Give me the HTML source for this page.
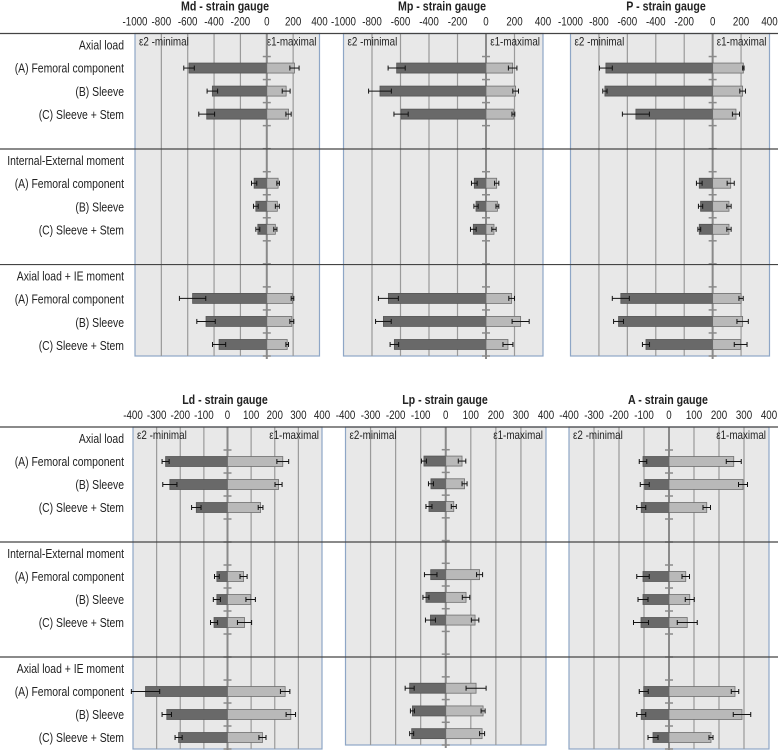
<!DOCTYPE html>
<html><head><meta charset="utf-8">
<style>
body{margin:0;background:#fff;width:778px;height:750px;overflow:hidden}
svg{display:block;font-family:"Liberation Sans",sans-serif}
</style></head>
<body>
<svg id="chart" width="778" height="750" viewBox="0 0 778 750"></svg>
<script>
const rowLabels = ["Axial load","(A) Femoral component","(B) Sleeve","(C) Sleeve + Stem","","Internal-External moment","(A) Femoral component","(B) Sleeve","(C) Sleeve + Stem","","Axial load + IE moment","(A) Femoral component","(B) Sleeve","(C) Sleeve + Stem"];
const barRows = [1,2,3,6,7,8,11,12,13];
const ticksTop = [-1000,-800,-600,-400,-200,0,200,400];
const ticksBottom = [-400,-300,-200,-100,0,100,200,300,400];

const mdE2 = [-590,-413,-456,-96,-83,-68,-563,-461,-362];
const mdE2Err = [40,40,60,20,18,15,100,70,50];
const mdE1 = [210,147,165,86,80,65,195,190,155];
const mdE1Err = [35,30,20,10,15,12,10,15,10];

const mpE2 = [-627,-744,-596,-82,-70,-89,-685,-720,-643];
const mpE2Err = [60,80,50,20,15,20,70,55,30];
const mpE1 = [187,208,192,75,80,56,180,243,154];
const mpE1Err = [30,20,10,15,10,15,20,60,35];

const pE2 = [-751,-758,-540,-94,-85,-94,-646,-662,-469];
const pE2Err = [45,15,95,20,15,10,60,35,25];
const pE1 = [216,211,164,127,115,115,200,211,197];
const pE1Err = [5,20,25,25,15,15,15,40,45];

const ldE2 = [-262,-244,-132,-45,-45,-57,-347,-257,-207];
const ldE2Err = [15,30,20,10,15,15,60,20,15];
const ldE1 = [234,216,140,68,98,72,244,268,148];
const ldE1Err = [25,15,10,15,20,30,20,20,15];

const lpE2 = [-87,-59,-67,-60,-79,-61,-144,-133,-136];
const lpE2Err = [10,10,12,25,12,20,18,8,8];
const lpE1 = [65,75,32,135,81,117,121,149,145];
const lpE1Err = [15,10,10,12,15,15,40,8,10];

const aE2 = [-104,-97,-111,-104,-104,-112,-101,-111,-64];
const aE2Err = [15,18,18,25,20,30,18,18,20];
const aE1 = [259,296,151,67,83,73,264,292,168];
const aE1Err = [30,18,15,15,18,40,15,35,8];

const NS="http://www.w3.org/2000/svg";
const svg=document.getElementById('chart');
function mk(tag,attrs,parent){const e=document.createElementNS(NS,tag);for(const k in attrs)e.setAttribute(k,attrs[k]);(parent||svg).appendChild(e);return e;}
function squeeze(t,f){const w=t.getComputedTextLength();if(w>0){t.setAttribute('textLength',(w*f).toFixed(1));t.setAttribute('lengthAdjust','spacingAndGlyphs');}}

function rowLabelsBlock(top,bottom){
  const step=(bottom-top)/14;
  rowLabels.forEach((t,i)=>{
    if(!t)return;
    const tx=mk('text',{x:124,y:top+(i+0.5)*step+4.5,'text-anchor':'end','font-size':13,fill:'#222'});
    tx.textContent=t;
    
    
    squeeze(tx,0.8);
  });
}
function separators(top,bottom){
  const step=(bottom-top)/14;
  [0,5,10].forEach(i=>{
    const y=top+i*step;
    const l=mk('line',{x1:0,x2:778,y1:y,y2:y,stroke:'#444','stroke-width':1.2});
    
    
  });
}

function panel(opt){
  const {x0,x1,min,max,top,bottom,title,titleX,ticks,e2,e2Err,e1,e1Err,lblE2,lblE1}=opt;
  const sx=v=>x0+(v-min)/(max-min)*(x1-x0);
  const step=(bottom-top)/14;
  const g=mk('g',{});
  
  
  const bg=mk('rect',{x:x0,y:top,width:x1-x0,height:bottom-top,fill:'#e8e8e8',stroke:'#8ea6c6','stroke-width':1.2},g);
  
  
  ticks.forEach(t=>{
    if(t!==min&&t!==max&&t!==0){
      const gl=mk('line',{x1:sx(t),x2:sx(t),y1:top,y2:bottom,stroke:'#9a9a9a','stroke-width':1.2},g);
      
      
    }
    const tl=mk('text',{x:sx(t),y:top-8,'text-anchor':'middle','font-size':11.5,fill:'#222'},g);
    tl.textContent=t;
    
    
    squeeze(tl,0.85);
  });
  const tt=mk('text',{x:titleX,y:top-23,'text-anchor':'middle','font-size':12.5,'font-weight':'bold',fill:'#222'},g);
  tt.textContent=title;
  
  
  squeeze(tt,0.85);
  const l2=mk('text',{x:x0+4,y:top+12,'font-size':12,fill:'#222'},g);
  l2.textContent=lblE2;
  
  
  squeeze(l2,0.82);
  const l1=mk('text',{x:x1-3,y:top+12,'text-anchor':'end','font-size':12,fill:'#222'},g);
  l1.textContent=lblE1;
  
  
  squeeze(l1,0.82);
  const zx=sx(0);
  const za=mk('line',{x1:zx,x2:zx,y1:top,y2:bottom+3,stroke:'#8a8a8a','stroke-width':2},g);
  
  
  for(let i=1;i<=14;i++){
    const tk=mk('line',{x1:zx-4,x2:zx+4,y1:top+i*step,y2:top+i*step,stroke:'#8a8a8a','stroke-width':1.5},g);
    
    
  }
  const bh=10;
  barRows.forEach((r,i)=>{
    const cy=top+(r+0.5)*step;
    const a=sx(e2[i]);
    const b2=mk('rect',{x:a,y:cy-bh/2,width:zx-a,height:bh,fill:'#696969',stroke:'#555','stroke-width':0.8},g);
    
    
    const b=sx(e1[i]);
    const b1=mk('rect',{x:zx,y:cy-bh/2,width:b-zx,height:bh,fill:'#b9b9b9',stroke:'#6e6e6e','stroke-width':0.8},g);
    
    
    [[e2[i],e2Err[i]],[e1[i],e1Err[i]]].forEach(([v,err])=>{
      const lo=sx(v-err),hi=sx(v+err);
      const eg=mk('g',{stroke:'#111','stroke-width':1},g);
      
      
      mk('line',{x1:lo,x2:hi,y1:cy,y2:cy},eg);
      mk('line',{x1:lo,x2:lo,y1:cy-2.5,y2:cy+2.5},eg);
      mk('line',{x1:hi,x2:hi,y1:cy-2.5,y2:cy+2.5},eg);
    });
  });
}

rowLabelsBlock(33.5,357);
rowLabelsBlock(427,749);

panel({x0:135,x1:319.5,min:-1000,max:400,top:33.5,bottom:356,title:'Md - strain gauge',titleX:225,ticks:ticksTop,e2:mdE2,e2Err:mdE2Err,e1:mdE1,e1Err:mdE1Err,lblE2:'ε2 -minimal',lblE1:'ε1-maximal'});
panel({x0:343.5,x1:543,min:-1000,max:400,top:33.5,bottom:356,title:'Mp - strain gauge',titleX:442,ticks:ticksTop,e2:mpE2,e2Err:mpE2Err,e1:mpE1,e1Err:mpE1Err,lblE2:'ε2 -minimal',lblE1:'ε1-maximal'});
panel({x0:570.5,x1:769.5,min:-1000,max:400,top:33.5,bottom:356,title:'P - strain gauge',titleX:666,ticks:ticksTop,e2:pE2,e2Err:pE2Err,e1:pE1,e1Err:pE1Err,lblE2:'ε2 -minimal',lblE1:'ε1-maximal'});
panel({x0:133,x1:322,min:-400,max:400,top:427,bottom:749,title:'Ld - strain gauge',titleX:225,ticks:ticksBottom,e2:ldE2,e2Err:ldE2Err,e1:ldE1,e1Err:ldE1Err,lblE2:'ε2 -minimal',lblE1:'ε1-maximal'});
panel({x0:345.5,x1:546,min:-400,max:400,top:427,bottom:745,title:'Lp - strain gauge',titleX:445,ticks:ticksBottom,e2:lpE2,e2Err:lpE2Err,e1:lpE1,e1Err:lpE1Err,lblE2:'ε2-minimal',lblE1:'ε1-maximal'});
panel({x0:569,x1:769,min:-400,max:400,top:427,bottom:749,title:'A - strain gauge',titleX:668,ticks:ticksBottom,e2:aE2,e2Err:aE2Err,e1:aE1,e1Err:aE1Err,lblE2:'ε2 -minimal',lblE1:'ε1-maximal'});

separators(33.5,357);
separators(427,749);
</script>
</body></html>
